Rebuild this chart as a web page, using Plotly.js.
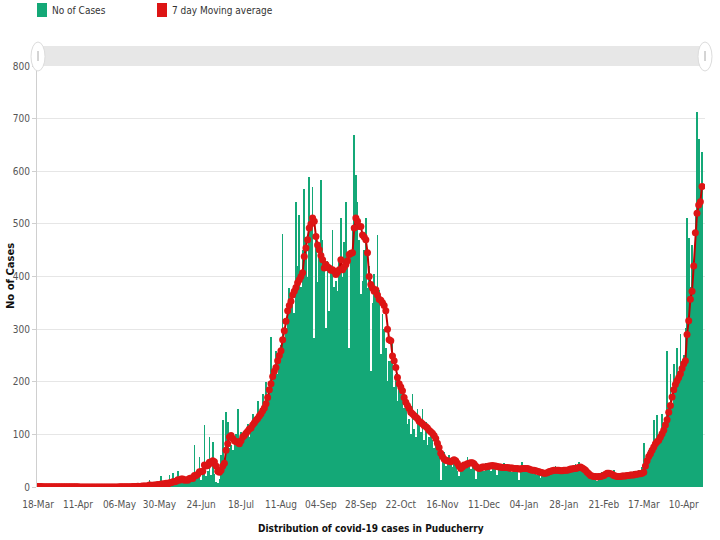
<!DOCTYPE html>
<html>
<head>
<meta charset="utf-8">
<script src="https://cdn.plot.ly/plotly-3.0.1.min.js"></script>
<style>html,body{margin:0;padding:0;background:#fff;}#chart{width:720px;height:540px;}</style>
</head>
<body>
<div id="chart"></div>
<script>
// First day of the series (18-Mar-2020); one value per day
const startDate = '2020-03-18';

const dailyCases = [
1,0,0,0,0,0,1,0,0,1,
0,0,0,1,0,0,2,0,0,0,
0,1,0,0,0,0,0,0,0,0,
0,0,1,0,0,0,0,0,0,0,
0,0,0,0,1,0,0,0,0,1,
0,1,0,2,0,1,0,3,0,1,
2,0,4,1,3,0,2,14,3,1,
5,2,6,4,20,3,8,5,2,23,
6,27,4,9,31,12,16,8,10,14,
9,15,20,12,79,18,22,57,14,25,
117,20,30,95,22,86,25,10,8,15,
60,127,50,142,123,75,80,70,95,100,
149,85,105,90,100,110,120,95,115,139,
120,130,164,135,150,177,145,199,170,180,
285,200,230,259,215,240,270,481,280,300,
330,379,345,360,330,542,420,517,380,450,
567,470,400,590,500,571,284,480,390,440,
583,470,410,303,430,334,420,489,380,391,
372,430,511,400,466,542,420,265,450,492,
669,593,542,470,366,391,450,511,379,420,
221,350,404,380,479,375,252,328,300,265,
202,240,240,284,190,215,164,209,180,189,
150,158,120,130,100,177,110,95,149,120,
105,149,90,123,80,95,110,89,75,85,
70,60,13,55,67,40,50,60,45,38,
48,55,30,20,35,40,45,38,57,42,
35,44,38,16,36,32,40,35,30,45,
38,42,30,35,44,40,22,35,41,38,
45,33,30,40,36,28,34,39,30,13,
35,48,32,36,30,40,28,30,25,33,
22,28,18,26,30,27,33,29,31,35,
28,40,30,32,25,36,30,38,27,33,
35,40,30,44,36,48,40,34,30,25,
22,18,25,15,20,24,12,22,25,28,
20,30,26,24,30,18,32,20,24,15,
22,25,18,24,20,28,22,26,30,24,
28,33,25,38,84,55,48,70,62,80,
127,75,136,90,100,139,110,120,259,150,
215,160,234,190,265,210,290,230,250,303,
511,473,380,460,420,517,713,662,567,637
];

const movingAverage = [
1,1,1,0.5,0.5,0.3,0.4,0.3,0.3,0.4,
0.4,0.3,0.3,0.4,0.3,0.3,0.5,0.5,0.4,0.4,
0.4,0.4,0.3,0.3,0.3,0.2,0.2,0.1,0.1,0.1,
0.1,0.1,0.2,0.2,0.2,0.2,0.2,0.1,0.1,0.1,
0.1,0.1,0.1,0.1,0.2,0.2,0.2,0.2,0.2,0.3,
0.3,0.4,0.4,0.6,0.6,0.7,0.6,1,1,1,
1.3,1.1,1.6,1.7,2,1.9,2,3.7,3.3,3.3,
3.9,3.7,4.9,4.3,5.9,5.7,6.3,6.9,5.4,7.9,
8,10,10,11,14,13,15,15,13,14,
13,16,17,16,22,22,24,29,29,30,
42,40,41,47,45,50,48,40,30,28,
32,40,45,70,82,95,98,92,88,86,
85,82,88,95,98,102,106,110,112,118,
122,127,130,135,139,145,150,158,170,185,
196,210,220,227,240,250,259,280,297,315,
335,345,353,365,372,379,388,394,400,407,
438,454,470,492,500,511,505,476,460,451,
440,432,416,423,418,416,412,413,410,404,
408,413,432,413,418,423,430,442,444,445,
492,511,505,495,495,479,475,470,445,400,
385,378,372,375,365,357,355,350,345,335,
300,280,278,249,240,227,208,196,190,183,
170,161,155,149,142,139,136,133,130,125,
123,120,117,115,112,108,105,102,98,92,
83,75,64,58,53,51,50,49,48,50,
52,50,45,40,35,38,42,42,44,45,
46,46,44,40,37,35,36,38,38,38,
39,40,40,41,40,40,39,38,38,37,
37,37,37,36,36,36,35,35,35,34,
34,35,35,35,35,34,33,32,32,31,
30,29,28,27,26,26,27,29,30,31,
32,32,32,32,31,31,32,32,32,33,
34,34,35,35,36,37,38,36,34,32,
28,25,22,21,20,20,19,20,20,21,
22,24,26,26,25,24,22,21,20,20,
20,21,21,21,22,22,23,23,23,24,
24,25,25,26,28,40,50,58,63,70,
76,82,86,89,95,101,108,118,128,142,
155,171,185,195,202,208,215,225,234,240,
290,316,357,372,420,483,520,536,542,571
];

const tickDates = ['2020-03-18','2020-04-11','2020-05-06','2020-05-30','2020-06-24','2020-07-18',
  '2020-08-11','2020-09-04','2020-09-28','2020-10-22','2020-11-16','2020-12-11','2021-01-04',
  '2021-01-28','2021-02-21','2021-03-17','2021-04-10'];
const tickLabels = ['18-Mar','11-Apr','06-May','30-May','24-Jun','18-Jul','11-Aug','04-Sep',
  '28-Sep','22-Oct','16-Nov','11-Dec','04-Jan','28-Jan','21-Feb','17-Mar','10-Apr'];

const seriesNames = ['No of Cases', '7 day Moving average'];

// Build the date categories (one per day)
const dates = [];
const d0 = new Date(startDate + 'T00:00:00Z');
for (let i = 0; i < dailyCases.length; i++) {
  const d = new Date(d0.getTime() + i * 86400000);
  dates.push(d.toISOString().slice(0, 10));
}

const GREEN = '#14a877';
const RED = '#dd1515';
const tickFont = {family: '"Liberation Sans Narrow", "DejaVu Sans Condensed", "Liberation Sans", sans-serif', size: 10, color: '#555'};

const traces = [
  {
    type: 'bar', x: dates, y: dailyCases, name: seriesNames[0],
    marker: {color: GREEN, line: {width: 0}}, showlegend: false, hoverinfo: 'x+y'
  },
  {
    type: 'scatter', mode: 'lines+markers', x: dates, y: movingAverage, name: seriesNames[1],
    line: {color: '#c40000', width: 2},
    marker: {color: RED, size: 7},
    showlegend: false
  }
];

const pH = 421, pW = 668;
const py = px => 1 + (66 - px) / pH;   // pixel y -> paper
const pxx = px => (px - 37) / pW;      // pixel x -> paper

const layout = {
  width: 720, height: 540,
  margin: {l: 37, r: 15, t: 66, b: 53, pad: 0},
  paper_bgcolor: '#fff', plot_bgcolor: '#fff',
  bargap: 0,
  showlegend: false,
  xaxis: {
    type: 'date',
    range: ['2020-03-17 09:36', '2021-04-22 19:00'],
    tickmode: 'array', tickvals: tickDates, ticktext: tickLabels,
    showgrid: false, zeroline: false, showline: false,
    ticks: 'outside', ticklen: 8, tickcolor: 'rgba(0,0,0,0)',
    tickfont: tickFont, fixedrange: true
  },
  yaxis: {
    range: [0, 800], dtick: 100, tick0: 0,
    showgrid: true, gridcolor: '#e6e6e6', gridwidth: 1,
    zeroline: false, showline: true, linecolor: '#cfcfcf', linewidth: 1,
    ticks: 'outside', ticklen: 4, tickcolor: '#cfcfcf',
    tickfont: tickFont, fixedrange: true
  },
  shapes: [
    // scrollbar
    {type: 'rect', xref: 'paper', yref: 'paper', x0: 0, x1: 1, y0: py(66), y1: py(46), fillcolor: '#e7e7e7', line: {width: 0}, layer: 'above'},
    {type: 'circle', xref: 'paper', yref: 'paper', x0: pxx(31), x1: pxx(45), y0: py(71), y1: py(42), fillcolor: '#ffffff', line: {color: '#dcdcdc', width: 1}, layer: 'above'},
    {type: 'line', xref: 'paper', yref: 'paper', x0: pxx(38), x1: pxx(38), y0: py(61), y1: py(51), line: {color: '#aaaaaa', width: 1}, layer: 'above'},
    {type: 'circle', xref: 'paper', yref: 'paper', x0: pxx(698), x1: pxx(712), y0: py(71), y1: py(42), fillcolor: '#ffffff', line: {color: '#dcdcdc', width: 1}, layer: 'above'},
    {type: 'line', xref: 'paper', yref: 'paper', x0: pxx(705), x1: pxx(705), y0: py(61), y1: py(51), line: {color: '#aaaaaa', width: 1}, layer: 'above'},
    // legend swatches
    {type: 'rect', xref: 'paper', yref: 'paper', x0: pxx(37), x1: pxx(47), y0: py(17), y1: py(3), fillcolor: GREEN, line: {width: 0}},
    {type: 'rect', xref: 'paper', yref: 'paper', x0: pxx(157), x1: pxx(167), y0: py(17), y1: py(3), fillcolor: RED, line: {width: 0}}
  ],
  annotations: [
    {xref: 'paper', yref: 'paper', x: pxx(50), y: py(10), xanchor: 'left', yanchor: 'middle', showarrow: false,
     text: seriesNames[0], font: {family: tickFont.family, size: 10, color: '#333'}},
    {xref: 'paper', yref: 'paper', x: pxx(170), y: py(10), xanchor: 'left', yanchor: 'middle', showarrow: false,
     text: seriesNames[1], font: {family: tickFont.family, size: 10, color: '#333'}},
    {xref: 'paper', yref: 'paper', x: pxx(10), y: py(276), xanchor: 'center', yanchor: 'middle', showarrow: false,
     textangle: -90, text: '<b>No of Cases</b>', font: {family: '"DejaVu Sans", sans-serif', size: 10, color: '#111'}},
    {xref: 'paper', yref: 'paper', x: pxx(371), y: py(528), xanchor: 'center', yanchor: 'middle', showarrow: false,
     text: '<b>Distribution of covid-19 cases in Puducherry</b>', font: {family: '"Liberation Sans Narrow", "DejaVu Sans Condensed", sans-serif', size: 10, color: '#111'}}
  ]
};

Plotly.newPlot('chart', traces, layout, {displayModeBar: false, staticPlot: true});
</script>
</body>
</html>
